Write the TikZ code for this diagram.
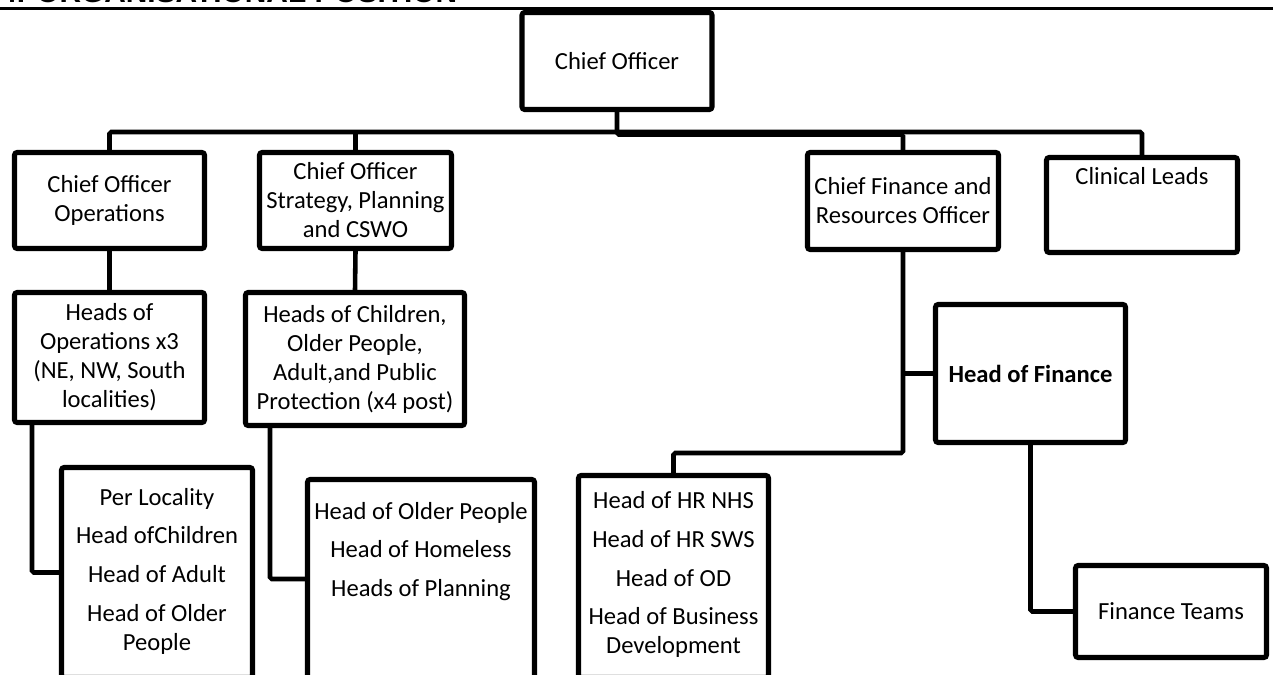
\documentclass[tikz,border=0pt]{standalone}
\usepackage{fontspec}
\setmainfont{Carlito}
\newfontfamily\headfont{Liberation Sans}
\usetikzlibrary{positioning}

\newcommand\postfont{\fontsize{14}{16.5}\selectfont}

\tikzset{
  post/.style={draw, line width=2.9pt, rounded corners=1.5pt, align=center,
    font=\postfont, inner sep=2pt},
  posttext/.style={align=center, font=\postfont, inner sep=2pt},
  link/.style={line width=2.6pt, rounded corners=1pt},
}

\begin{document}
\begin{tikzpicture}[x=0.02cm, y=-0.02cm]
    \useasboundingbox (0,0) rectangle (1273,675);
    \clip (0,0) rectangle (1273,675);

    % heading, cut off at the top of the page
    \node[anchor=base west, inner sep=0, font=\headfont\bfseries\fontsize{17}{17}\selectfont] (title) at (0,3) {4. ORGANISATIONAL POSITION};
    \coordinate (ruleL) at (0,8.5);
    \coordinate (ruleR) at (1273,8.5);
    \draw[line width=1.8pt] (ruleL) -- (ruleR);

    % top level
    \node[post, minimum width=3.8cm, minimum height=1.94cm] (chief) at (617,61) {Chief Officer};

    % second level
    \node[post, minimum width=3.8cm, minimum height=1.92cm] (ops) at (109.5,200.5) {Chief Officer\\Operations};
    \node[post, minimum width=3.84cm, minimum height=1.92cm] (strat) at (355.5,200.5) {Chief Officer\\\makebox[3.6cm]{Strategy, Planning}\\and CSWO};
    \node[post, minimum width=3.82cm, minimum height=1.94cm] (cfo) at (903,201) {Chief Finance and\\Resources Officer};
    \node[post, minimum width=3.82cm, minimum height=1.9cm] (clin) at (1142,205) {};
    \node[posttext, below=5pt of clin.north] (clintext) {Clinical Leads};

    % third level
    \node[post, minimum width=3.8cm, minimum height=2.6cm] (hops) at (109.5,357.5) {Heads of\\Operations x3\\(NE, NW, South\\localities)};
    \node[post, minimum width=4.38cm, minimum height=2.66cm] (hchild) at (355,359) {Heads of Children,\\Older People,\\Adult,and Public\\Protection (x4 post)};
    \node[post, minimum width=3.8cm, minimum height=2.76cm, font=\postfont\bfseries] (hfin) at (1030.5,373.5) {Head of Finance};

    % bottom level
    \node[post, minimum width=3.82cm, minimum height=4.2cm] (perloc) at (157,572.5) {};
    \node[posttext, below=11pt of perloc.north] (perloctext) {Per Locality\\[5.5pt]Head ofChildren\\[5.5pt]Head of Adult\\[5.5pt]Head of Older\\People};
    \node[post, minimum width=4.54cm, minimum height=3.98cm] (holder) at (421,579) {};
    \node[posttext, below=12pt of holder.north] (holdertext) {Head of Older People\\[5.5pt]Head of Homeless\\[5.5pt]Heads of Planning};
    \node[post, minimum width=3.8cm, minimum height=4.04cm] (hr) at (673.5,576.5) {};
    \node[posttext, below=8.5pt of hr.north] (hrtext) {Head of HR NHS\\[5.5pt]Head of HR SWS\\[5.5pt]Head of OD\\[5.5pt]Head of Business\\Development};
    \node[post, minimum width=3.82cm, minimum height=1.84cm] (fteams) at (1171,611.5) {Finance Teams};

    % connectors
    \coordinate (bus) at (0,132);
    \coordinate (busB) at (0,134.5);
    \coordinate (hrjoin) at (0,453);
    \coordinate (opsdrop) at (32,0);
    \coordinate (stratdrop) at (270,0);
    \draw[link] (ops.north) |- (bus -| clin.north) -- (clin.north);
    \draw[link] (strat.north) -- (strat.north |- bus);
    \draw[link] (chief.south) |- (busB -| cfo.north) -- (cfo.north);
    \draw[link] (ops.south) -- (hops.north);
    \draw[link] (strat.south) -- (hchild.north);
    \draw[link] (hops.south -| opsdrop) |- (perloc.west);
    \draw[link] (hchild.south -| stratdrop) |- (holder.west);
    \draw[link] (cfo.south) |- (hrjoin -| hr.north) -- (hr.north);
    \draw[link] (cfo.south |- hfin.west) -- (hfin.west);
    \draw[link] (hfin.south) |- (fteams.west);
\end{tikzpicture}
\end{document}
